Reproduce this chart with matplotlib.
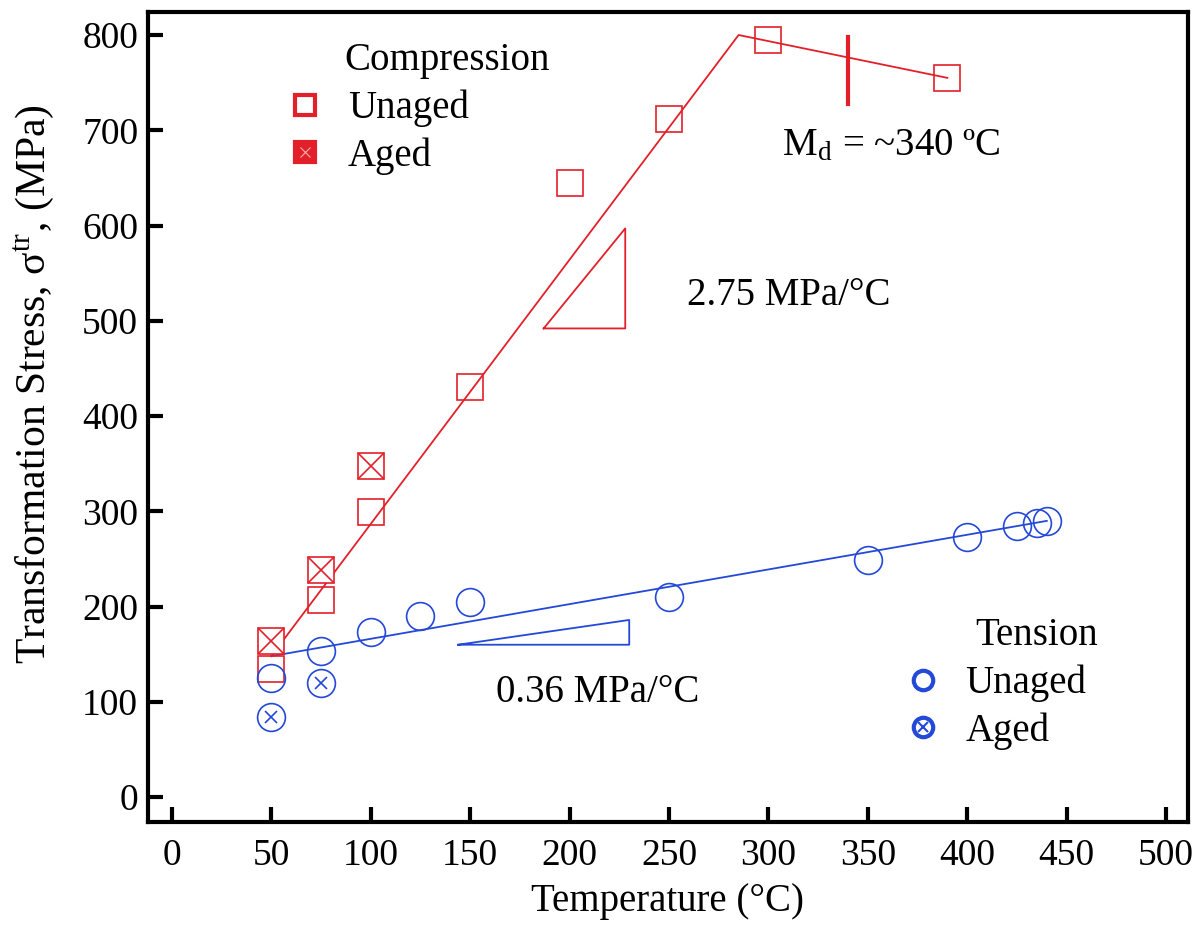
import matplotlib
matplotlib.use('Agg')
import matplotlib.pyplot as plt
from matplotlib.lines import Line2D
from matplotlib.legend_handler import HandlerTuple

plt.rcParams['font.family'] = ['Liberation Serif', 'DejaVu Serif']
plt.rcParams['mathtext.fontset'] = 'stix'

# **Data**
comp_unaged_T = [50, 75, 100, 150, 200, 250, 300, 390]
comp_unaged_S = [135, 207, 299, 430, 645, 712, 795, 755]
comp_aged_T = [50, 75, 100]
comp_aged_S = [164, 238, 348]

tens_unaged_T = [50, 75, 100, 125, 150, 250, 350, 400, 425, 435, 440]
tens_unaged_S = [125, 153, 173, 190, 205, 210, 249, 273, 285, 288, 290]
tens_aged_T = [50, 75]
tens_aged_S = [84, 120]

# fitted trend lines
comp_fit_T = [50, 285, 390]
comp_fit_S = [148, 800, 755]
tens_fit_T = [50, 440]
tens_fit_S = [148, 290]

# slope triangles
tri_comp_T = [187, 228, 228, 187]
tri_comp_S = [492, 597, 492, 492]
tri_tens_T = [144, 230, 230, 144]
tri_tens_S = [160, 186, 160, 160]

# Md marker
md_T = [340, 340]
md_S = [728, 798]

x_ticks = list(range(0, 501, 50))
y_ticks = list(range(0, 801, 100))

RED = '#e3202a'
BLUE = '#2448d8'

fig = plt.figure(figsize=(12.01, 9.34), dpi=100)
ax = fig.add_axes([0.1232, 0.12, 0.866, 0.867])

# lines
ax.plot(comp_fit_T, comp_fit_S, color=RED, lw=1.3, zorder=2)
ax.plot(tens_fit_T, tens_fit_S, color=BLUE, lw=1.3, zorder=2)
ax.plot(tri_comp_T, tri_comp_S, color=RED, lw=1.3)
ax.plot(tri_tens_T, tri_tens_S, color=BLUE, lw=1.3)
ax.plot(md_T, md_S, color=RED, lw=3)

# compression markers
ax.plot(comp_unaged_T, comp_unaged_S, ls='none', marker='s', ms=19, mfc='none',
        mec=RED, mew=1.2, zorder=3)
ax.plot(comp_aged_T, comp_aged_S, ls='none', marker='s', ms=19, mfc='white',
        mec=RED, mew=1.2, zorder=4)
ax.plot(comp_aged_T, comp_aged_S, ls='none', marker='x', ms=19,
        mec=RED, mew=1.2, zorder=4)

# tension markers
ax.plot(tens_unaged_T, tens_unaged_S, ls='none', marker='o', ms=20, mfc='none',
        mec=BLUE, mew=1.2, zorder=3)
ax.plot(tens_aged_T, tens_aged_S, ls='none', marker='o', ms=20, mfc='none',
        mec=BLUE, mew=1.2, zorder=3)
ax.plot(tens_aged_T, tens_aged_S, ls='none', marker='x', ms=8,
        mec=BLUE, mew=1.2, zorder=3)

# annotations
ax.text(259, 527, '2.75 MPa/°C', fontsize=28, va='center', ha='left')
ax.text(163, 110, '0.36 MPa/°C', fontsize=28, va='center', ha='left')
ax.text(307, 683, r'M$_{\mathregular{d}}$ = ~340 ºC', fontsize=28, va='center', ha='left')

# legends
h_cu = Line2D([], [], ls='none', marker='s', ms=14, mfc='none', mec=RED, mew=3)
h_ca = (Line2D([], [], ls='none', marker='s', ms=14, mfc=RED, mec=RED, mew=3),
        Line2D([], [], ls='none', marker='x', ms=7, mec='#f6b0b0', mew=0.8))
h_tu = Line2D([], [], ls='none', marker='o', ms=14, mfc='none', mec=BLUE, mew=3)
h_ta = (Line2D([], [], ls='none', marker='o', ms=14, mfc='none', mec=BLUE, mew=3),
        Line2D([], [], ls='none', marker='x', ms=7, mec=BLUE, mew=1.5))

leg1 = ax.legend([h_cu, h_ca], ['Unaged', 'Aged'], loc='upper left',
                 bbox_to_anchor=(0.136, 0.904), frameon=False, fontsize=28,
                 handlelength=0.8, handletextpad=0.7, labelspacing=0.25,
                 borderpad=0, borderaxespad=0,
                 handler_map={tuple: HandlerTuple(ndivide=1, pad=0)})
ax.add_artist(leg1)
ax.text(0.189, 0.94, 'Compression', transform=ax.transAxes, fontsize=28,
        va='center', ha='left')

leg2 = ax.legend([h_tu, h_ta], ['Unaged', 'Aged'], loc='upper left',
                 bbox_to_anchor=(0.73, 0.194), frameon=False, fontsize=28,
                 handlelength=0.8, handletextpad=0.7, labelspacing=0.25,
                 borderpad=0, borderaxespad=0,
                 handler_map={tuple: HandlerTuple(ndivide=1, pad=0)})
ax.text(0.795, 0.23, 'Tension', transform=ax.transAxes, fontsize=28,
        va='center', ha='left')

# axes
ax.set_xlim(-12, 511)
ax.set_ylim(-26, 824)
ax.set_xticks(x_ticks)
ax.set_yticks(y_ticks)
ax.tick_params(direction='in', length=11, width=3, labelsize=27)
ax.tick_params(axis='x', pad=12)
ax.tick_params(axis='y', pad=7)
for s in ax.spines.values():
    s.set_linewidth(3)

ax.set_xlabel('Temperature (°C)', fontsize=28)
ax.set_ylabel('Transformation Stress, σ$^{\\mathregular{tr}}$, (MPa)', fontsize=30)
ax.xaxis.set_label_coords(0.5, -0.075)
ax.yaxis.set_label_coords(-0.088, 0.54)

plt.savefig('out.png', dpi=100)
